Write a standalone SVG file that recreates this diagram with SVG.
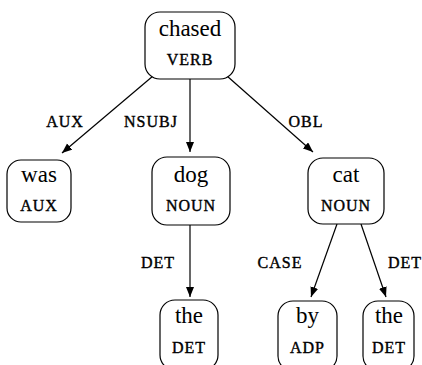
<svg xmlns="http://www.w3.org/2000/svg" width="422" height="365" viewBox="0 0 422 365">
<style>
.box{fill:#fff;stroke:#000;stroke-width:1.2}
text{font-family:'Liberation Serif','Times New Roman',serif;fill:#000;text-anchor:middle}
.w{font-size:23px}
.p{font-size:16px;letter-spacing:1px;stroke:#000;stroke-width:0.4}
.e{stroke:#000;stroke-width:1.2;fill:none;marker-end:url(#ah)}
</style>
<defs>
<marker id="ah" markerUnits="userSpaceOnUse" markerWidth="11" markerHeight="9" refX="10" refY="4" orient="auto">
<path d="M0,0 L10,4 L0,8 z" fill="#000"/>
</marker>
</defs>
<rect width="422" height="365" fill="#fff"/>
<g id="connectors">
<line class="e" x1="153" y1="76" x2="62" y2="153"/>
<line class="e" x1="190" y1="79" x2="190" y2="152"/>
<line class="e" x1="227" y1="76" x2="313" y2="152"/>
<line class="e" x1="190" y1="225" x2="190" y2="297"/>
<line class="e" x1="337" y1="224" x2="311" y2="297"/>
<line class="e" x1="361" y1="224" x2="386" y2="297"/>
<text class="p" x="65" y="127">AUX</text>
<text class="p" x="151" y="127">NSUBJ</text>
<text class="p" x="306" y="127">OBL</text>
<text class="p" x="158" y="268">DET</text>
<text class="p" x="280" y="268">CASE</text>
<text class="p" x="405" y="268">DET</text>
</g>
<g id="chased"><rect class="box" x="145" y="12" width="90" height="67" rx="15"/><text class="w" x="190" y="36">chased</text><text class="p" x="190" y="65">VERB</text></g>
<g id="was"><rect class="box" x="7" y="160" width="64" height="62" rx="14"/><text class="w" x="39" y="182">was</text><text class="p" x="39" y="211">AUX</text></g>
<g id="dog"><rect class="box" x="152" y="157" width="78" height="68" rx="15"/><text class="w" x="191" y="182">dog</text><text class="p" x="191" y="211">NOUN</text></g>
<g id="cat"><rect class="box" x="308" y="158" width="76" height="66" rx="15"/><text class="w" x="346" y="182">cat</text><text class="p" x="346" y="211">NOUN</text></g>
<g id="the1"><rect class="box" x="160" y="300" width="58" height="70" rx="15"/><text class="w" x="189" y="323">the</text><text class="p" x="189" y="353">DET</text></g>
<g id="by"><rect class="box" x="278" y="301" width="59" height="70" rx="15"/><text class="w" x="307.5" y="323">by</text><text class="p" x="307.5" y="353">ADP</text></g>
<g id="the2"><rect class="box" x="363" y="301" width="51" height="70" rx="15"/><text class="w" x="389" y="323">the</text><text class="p" x="389" y="353">DET</text></g>
</svg>
